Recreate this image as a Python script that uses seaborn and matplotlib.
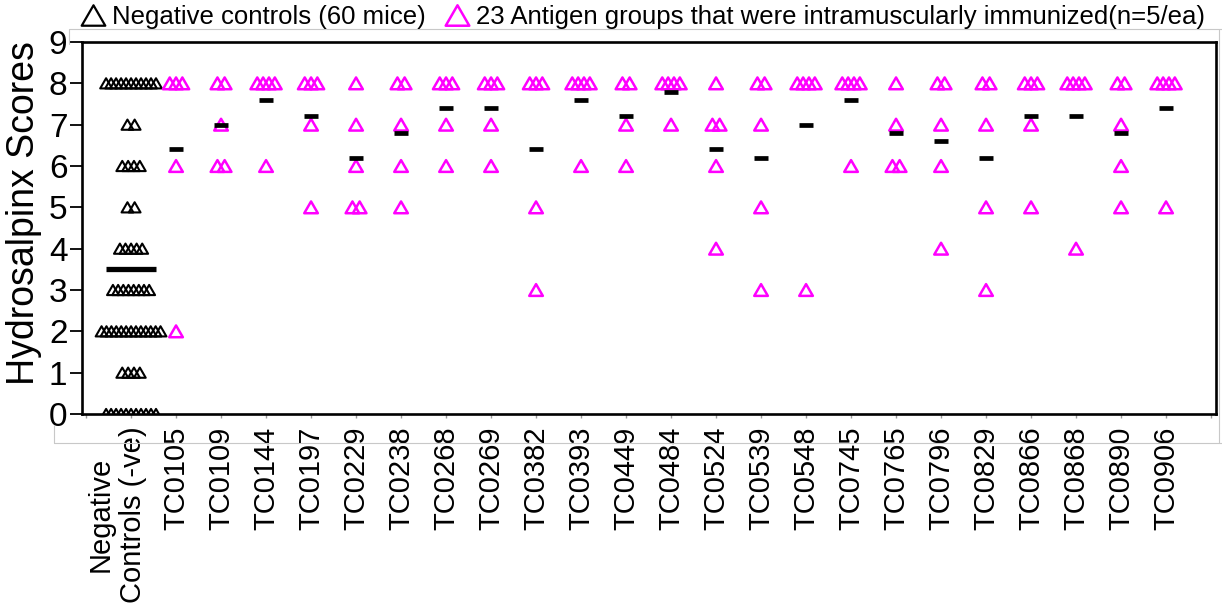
import numpy as np
import pandas as pd
import matplotlib
matplotlib.use("Agg")
import matplotlib.pyplot as plt
import matplotlib.transforms as mtransforms
from matplotlib.path import Path
from matplotlib.lines import Line2D
import seaborn as sns

# ---------------- data ----------------
neg_label = "Negative\nControls (-ve)"
neg_levels = [8, 7, 6, 5, 4, 3, 2, 1, 0]
neg_counts = [11, 2, 4, 2, 5, 8, 13, 4, 11]
neg_mean = 3.5

group_names = ["TC0105", "TC0109", "TC0144", "TC0197", "TC0229", "TC0238",
               "TC0268", "TC0269", "TC0382", "TC0393", "TC0449", "TC0484",
               "TC0524", "TC0539", "TC0548", "TC0745", "TC0765", "TC0796",
               "TC0829", "TC0866", "TC0868", "TC0890", "TC0906"]
group_scores = [
    [8, 8, 8, 6, 2], [8, 8, 7, 6, 6], [8, 8, 8, 8, 6], [8, 8, 8, 7, 5],
    [8, 7, 6, 5, 5], [8, 8, 7, 6, 5], [8, 8, 8, 7, 6], [8, 8, 8, 7, 6],
    [8, 8, 8, 5, 3], [8, 8, 8, 8, 6], [8, 8, 7, 6], [8, 8, 8, 8, 7],
    [8, 7, 7, 6, 4], [8, 8, 7, 5, 3], [8, 8, 8, 8, 3], [8, 8, 8, 8, 6],
    [8, 7, 6, 6], [8, 8, 7, 6, 4], [8, 8, 7, 5, 3], [8, 8, 8, 7, 5],
    [8, 8, 8, 8, 4], [8, 8, 7, 6, 5], [8, 8, 8, 8, 5],
]
group_means = [6.4, 7.0, 7.6, 7.2, 6.2, 6.8, 7.4, 7.4, 6.4, 7.6, 7.2, 7.8,
               6.4, 6.2, 7.0, 7.6, 6.8, 6.6, 6.2, 7.2, 7.2, 6.8, 7.4]

y_ticks = list(range(0, 10))
legend_labels = ["Negative controls (60 mice)",
                 "23 Antigen groups that were intramuscularly immunized(n=5/ea)"]
y_label = "Hydrosalpinx Scores"

# ---------------- build long table ----------------
rows = []
for lvl, cnt in zip(neg_levels, neg_counts):
    for k in range(cnt):
        rows.append(("neg", 0, lvl, k, cnt))
for i, sc in enumerate(group_scores, start=1):
    vals, cnts = np.unique(sc, return_counts=True)
    for v, c in zip(vals, cnts):
        for k in range(c):
            rows.append(("ag", i, v, k, c))
df = pd.DataFrame(rows, columns=["kind", "pos", "score", "k", "n"])
step = 0.10 + 0.12 / df["n"]
df["x"] = df["pos"] + (df["k"] - (df["n"] - 1) / 2) * step

# ---------------- style ----------------
sns.set_theme(style="white")
plt.rcParams["font.family"] = ["Liberation Sans", "DejaVu Sans"]
plt.rcParams["text.color"] = "black"
plt.rcParams["axes.labelcolor"] = "black"
plt.rcParams["xtick.color"] = "black"
plt.rcParams["ytick.color"] = "black"

W, H = 1222, 609
fig = plt.figure(figsize=(W / 100, H / 100), dpi=100)
ax = fig.add_axes([82 / W, 1 - 414 / H, (1216 - 82) / W, (414 - 42) / H])

tri = Path([(0, 0.433), (-0.5, -0.433), (0.5, -0.433), (0, 0.433)], closed=True)
MAGENTA = "#ff00ff"

sns.scatterplot(data=df[df["kind"] == "neg"], x="x", y="score", marker=tri,
                s=72, facecolor="none", edgecolor="black", linewidth=1.5,
                ax=ax, legend=False, zorder=3)
sns.scatterplot(data=df[df["kind"] == "ag"], x="x", y="score", marker=tri,
                s=96, facecolor="none", edgecolor=MAGENTA, linewidth=1.8,
                ax=ax, legend=False, zorder=3)

# mean bars
gpos = np.arange(1, len(group_names) + 1)
ax.hlines(group_means, gpos - 0.16, gpos + 0.16, color="black", lw=3.4, zorder=4)
ax.hlines([neg_mean], [-0.55], [0.55], color="black", lw=3.8, zorder=4)

# axes
ax.set_xlim(-1.09, 24.11)
ax.set_ylim(0, 9)
ax.set_xticks(range(-1, 25))
ax.set_xticklabels([""] + [neg_label] + group_names + [""], rotation=90,
                   fontsize=21, va="top", ha="center")
ax.set_yticks(y_ticks)
ax.set_yticklabels([str(t) for t in y_ticks], fontsize=24)
ax.tick_params(axis="x", length=3, width=1, color="#9a9a9a", pad=6,
               labelcolor="black", bottom=True)
ax.tick_params(axis="y", length=8.5, width=1.3, color="black", pad=2,
               labelcolor="black", left=True)
for sp in ax.spines.values():
    sp.set_visible(True)
    sp.set_color("black")
    sp.set_linewidth(1.9)
ax.set_xlabel("")
ax.set_ylabel(y_label, fontsize=27, color="black")
ax.yaxis.set_label_coords(-0.035, 0.54)
ax.grid(False)

# shift the two-line negative label slightly left
lab = ax.get_xticklabels()[1]
lab.set_transform(lab.get_transform() +
                  mtransforms.ScaledTranslation(-14 / 100, 0, fig.dpi_scale_trans))

# legend
handles = [
    Line2D([], [], ls="", marker=tri, markersize=17, markerfacecolor="none",
           markeredgecolor="black", markeredgewidth=1.6),
    Line2D([], [], ls="", marker=tri, markersize=17, markerfacecolor="none",
           markeredgecolor=MAGENTA, markeredgewidth=1.8),
]
fig.legend(handles, legend_labels, loc="upper left",
           bbox_to_anchor=(80 / W, 1 - 5 / H), ncol=2, frameon=False,
           fontsize=18.5, handlelength=1.0, handletextpad=0.25,
           columnspacing=0.7, borderpad=0, borderaxespad=0,
           labelcolor="black")

# faint frame lines of the original graph builder
def fline(x0, y0, x1, y1):
    fig.add_artist(Line2D([x0 / W, x1 / W], [1 - y0 / H, 1 - y1 / H],
                          transform=fig.transFigure, color="#c8c8c8", lw=0.8))

fline(54, 443, W, 443)
fline(54, 425, 54, 443)
fline(69, 29, W, 29)
fline(69, 29, 69, 44)
fline(1219, 29, 1219, 443)

fig.savefig("out.png", dpi=100)
